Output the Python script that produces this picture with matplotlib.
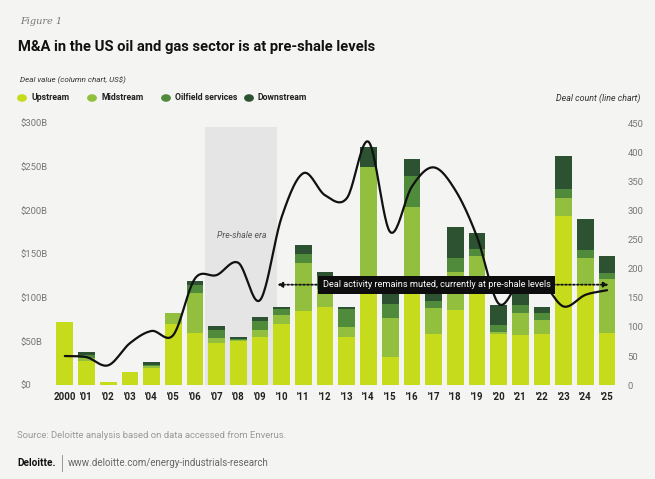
import numpy as np
import matplotlib.pyplot as plt

years = ["2000", "'01", "'02", "'03", "'04", "'05", "'06", "'07", "'08", "'09",
         "'10", "'11", "'12", "'13", "'14", "'15", "'16", "'17", "'18", "'19",
         "'20", "'21", "'22", "'23", "'24", "'25"]

# deal value, US$ billions
upstream = [72, 28, 4, 15, 20, 70, 60, 48, 50, 55, 70, 85, 90, 55, 115, 32, 110, 58, 86, 110,
            58, 57, 58, 194, 115, 60]
midstream = [0, 3, 0, 0, 2, 12, 45, 6, 2, 8, 10, 55, 20, 12, 135, 45, 94, 30, 43, 38,
             3, 25, 16, 20, 30, 61]
oilfield = [0, 3, 0, 0, 1, 0, 10, 9, 1, 10, 7, 10, 15, 20, 0, 16, 35, 8, 17, 8,
            8, 10, 8, 10, 10, 7]
downstream = [0, 4, 0, 0, 3, 0, 4, 5, 2, 5, 3, 11, 4, 3, 23, 15, 20, 12, 35, 18,
              23, 14, 8, 38, 35, 20]

# deal count
deal_count = [50, 48, 34, 72, 93, 86, 183, 189, 210, 146, 289, 364, 326, 321, 418, 263,
              341, 374, 335, 255, 140, 178, 176, 135, 155, 163]

value_ticks = [0, 50, 100, 150, 200, 250, 300]
value_labels = ["$0", "$50B", "$100B", "$150B", "$200B", "$250B", "$300B"]
count_ticks = [0, 50, 100, 150, 200, 250, 300, 350, 400, 450]

c_up, c_mid, c_oil, c_down = "#c5db1c", "#92c03e", "#4f8b3b", "#2c5231"
bg = "#f4f4f2"

plt.rcParams["font.family"] = ["Roboto", "DejaVu Sans"]


def catmull_rom(x, y, n=24):
    x = np.asarray(x, float)
    y = np.asarray(y, float)
    px = np.concatenate([[2 * x[0] - x[1]], x, [2 * x[-1] - x[-2]]])
    py = np.concatenate([[2 * y[0] - y[1]], y, [2 * y[-1] - y[-2]]])
    t = np.linspace(0, 1, n, endpoint=False)
    xs, ys = [], []
    for i in range(1, len(px) - 2):
        for p, out in ((px, xs), (py, ys)):
            p0, p1, p2, p3 = p[i - 1], p[i], p[i + 1], p[i + 2]
            out.extend(0.5 * (2 * p1 + (-p0 + p2) * t
                              + (2 * p0 - 5 * p1 + 4 * p2 - p3) * t ** 2
                              + (-p0 + 3 * p1 - 3 * p2 + p3) * t ** 3))
    xs.append(x[-1])
    ys.append(y[-1])
    return np.array(xs), np.array(ys)


fig = plt.figure(figsize=(6.55, 4.79), dpi=100, facecolor=bg)
ax = fig.add_axes([0.0824, 0.196, 0.861, 0.547])
ax.set_facecolor("none")
x = np.arange(len(years))

ax.axvspan(6.45, 9.77, ymin=0, ymax=296 / 300, color="#e5e5e5", lw=0, zorder=0)
ax.text(8.15, 171, "Pre-shale era", ha="center", va="center", fontsize=6.3,
        style="italic", color="#555555", zorder=1)

bottom = np.zeros(len(years))
for vals, col in ((upstream, c_up), (midstream, c_mid), (oilfield, c_oil), (downstream, c_down)):
    ax.bar(x, vals, width=0.77, bottom=bottom, color=col, lw=0, zorder=2)
    bottom += np.array(vals)

ax.set_xlim(-0.5, len(years) - 0.5)
ax.set_ylim(0, 300)
ax.set_yticks(value_ticks)
ax.set_yticklabels(value_labels, fontsize=6.8, color="#777777")
for lab in ax.get_yticklabels():
    lab.set_horizontalalignment("left")
ax.tick_params(axis="y", length=0, pad=24)
ax.set_xticks(x)
ax.set_xticklabels(years, fontsize=7, fontweight="bold", color="#222222")
ax.tick_params(axis="x", length=0, pad=5)
for s in ax.spines.values():
    s.set_visible(False)

ax2 = ax.twinx()
ax2.set_ylim(0, 450)
ax2.set_yticks(count_ticks)
ax2.set_yticklabels([str(v) for v in count_ticks], fontsize=6.8, color="#777777")
ax2.tick_params(axis="y", length=0, pad=7)
for s in ax2.spines.values():
    s.set_visible(False)

lx, ly = catmull_rom(x, deal_count)
ax2.plot(lx, ly, color="#111111", lw=1.6, zorder=3, solid_capstyle="round")

# dotted arrows either side of the note
ay = 172.5
for tip, tail in ((9.8, 14.0), (25.07, 20.5)):
    ax2.annotate("", xy=(tip, ay), xytext=(tail, ay),
                 arrowprops=dict(arrowstyle="-|>", ls=(0, (1, 1.2)), lw=1.3, color="#111111",
                                 mutation_scale=7, shrinkA=0, shrinkB=0), zorder=4)
ax2.text(17.15, ay, "Deal activity remains muted, currently at pre-shale levels",
         ha="center", va="center", fontsize=6.6, color="white", zorder=5,
         bbox=dict(boxstyle="square,pad=0.5", fc="#0d0d0d", ec="none"))

# header
fig.text(20 / 655, 1 - 22 / 479, "Figure 1", fontsize=7, style="italic", color="#777777",
         family=["DejaVu Serif"], va="center")
fig.text(18 / 655, 1 - 47 / 479, "M&A in the US oil and gas sector is at pre-shale levels",
         fontsize=10.6, fontweight="bold", color="#111111", va="center")
fig.text(20 / 655, 1 - 80 / 479, "Deal value (column chart, US$)", fontsize=5.8,
         style="italic", color="#333333", va="center")
fig.text(640 / 655, 1 - 98 / 479, "Deal count (line chart)", fontsize=6.4,
         style="italic", color="#333333", va="center", ha="right")

legend_items = [("Upstream", c_up, 22), ("Midstream", c_mid, 92),
                ("Oilfield services", c_oil, 166), ("Downstream", c_down, 249)]
for name, col, px in legend_items:
    fig.patches.append(plt.Circle((px / 655, 1 - 98 / 479), 4.2 / 655, color=col,
                                  transform=fig.transFigure, figure=fig))
    fig.text((px + 9) / 655, 1 - 98 / 479, name, fontsize=6.3, fontweight="bold",
             color="#222222", va="center")

# footer
fig.text(17 / 655, 1 - 435 / 479,
         "Source: Deloitte analysis based on data accessed from Enverus.",
         fontsize=6.8, color="#999999", va="center")
fig.text(17 / 655, 1 - 463 / 479, "Deloitte.", fontsize=7.2, fontweight="bold",
         color="#111111", va="center")
fig.add_artist(plt.Line2D([62 / 655, 62 / 655], [1 - 455 / 479, 1 - 471 / 479],
                          color="#999999", lw=0.7, transform=fig.transFigure))
fig.text(68 / 655, 1 - 463 / 479, "www.deloitte.com/energy-industrials-research",
         fontsize=7, color="#666666", va="center")

fig.savefig("out.png", dpi=100, facecolor=bg)
